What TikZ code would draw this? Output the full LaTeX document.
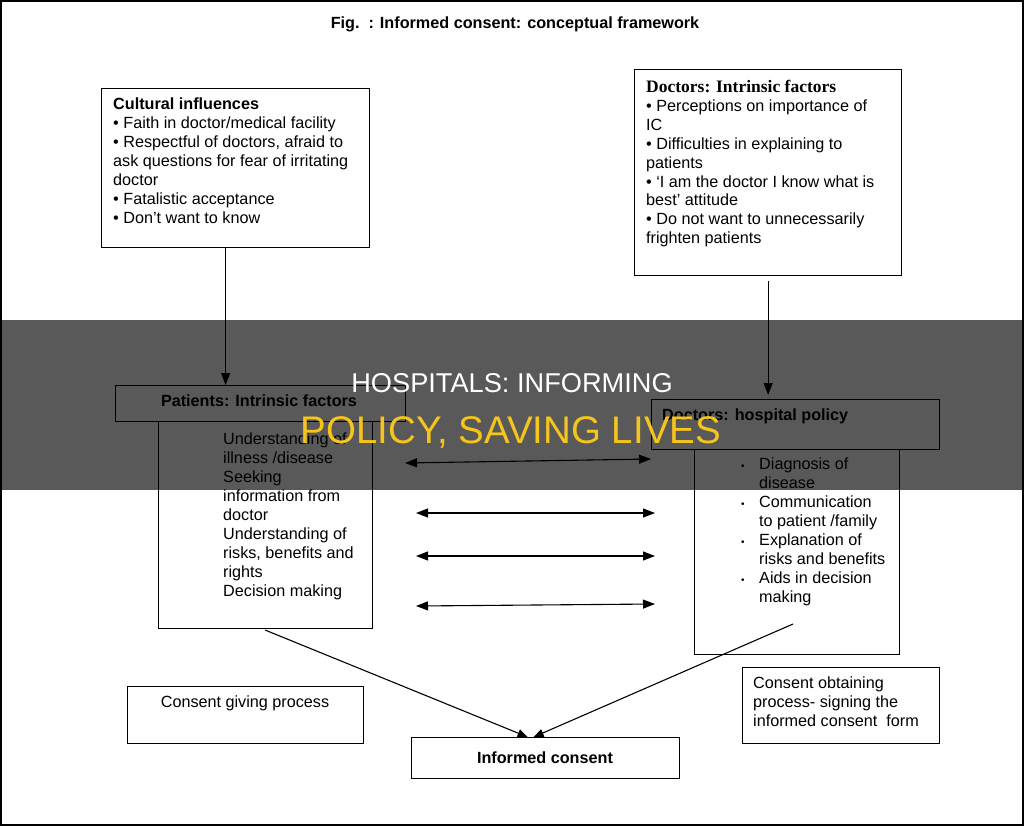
\documentclass[tikz,border=0pt]{standalone}
\usepackage{fontspec}
\setmainfont{Liberation Sans}
\newfontfamily\serifbf{Liberation Serif}
\newfontfamily\bannerfont{Liberation Sans}
\usetikzlibrary{arrows.meta,calc}
\definecolor{banneryellow}{RGB}{245,197,30}
\newcommand\fs{\fontsize{16.2}{18.9}\selectfont}
\newcommand\bul{\makebox[18pt][l]{\fontsize{10}{10}\selectfont\textbullet}}
\tikzset{
 box/.style={draw, line width=1.2pt, inner sep=0pt, anchor=north west},
 txt/.style={anchor=north west, inner sep=0pt, align=left, font=\fs},
 arr/.style={line width=1.1pt, -{Triangle[length=12pt,width=9pt]}},
 darr/.style={line width=1.1pt, {Triangle[length=12pt,width=9pt]}-{Triangle[length=12pt,width=9pt]}},
 sarr/.style={line width=1.1pt, -{Triangle[length=10pt,width=8pt]}},
}
\begin{document}
\begin{tikzpicture}[x=1pt,y=-1pt]
\useasboundingbox (0,0) rectangle (1024,827);
\draw[line width=2pt] (1,1) rectangle (1023,825);
\node[anchor=base, inner sep=0pt, font=\fs\bfseries] (title) at (515,28) {Fig.\ \ : Informed consent: conceptual framework};

% Cultural influences
\node[box, minimum width=268pt, minimum height=159pt] (cult) at (101,88) {};
\node[txt] (culttxt) at (113,98) {\textbf{Cultural influences}\\
\textbullet\ Faith in doctor/medical facility\\
\textbullet\ Respectful of doctors, afraid to\\
ask questions for fear of irritating\\
doctor\\
\textbullet\ Fatalistic acceptance\\
\textbullet\ Don’t want to know};

% Doctors intrinsic
\node[box, minimum width=267pt, minimum height=206pt] (dint) at (634,69) {};
\node[txt] (dinttxt) at (646,80) {{\serifbf\bfseries\fontsize{17.5}{18.9}\selectfont Doctors: Intrinsic factors}\\
\textbullet\ Perceptions on importance of\\
IC\\
\textbullet\ Difficulties in explaining to\\
patients\\
\textbullet\ ‘I am the doctor I know what is\\
best’ attitude\\
\textbullet\ Do not want to unnecessarily\\
frighten patients};

% Patients
\node[box, minimum width=214pt, minimum height=207pt] (pbody) at (158,421) {};
\node[box, minimum width=290pt, minimum height=36pt] (phead) at (115,385) {};
\node[anchor=base, inner sep=0pt, font=\fs\bfseries] (pheadtxt) at (259,406) {Patients: Intrinsic factors};
\node[txt] (pbodytxt) at (223,433) {Understanding of\\
illness /disease\\
Seeking\\
information from\\
doctor\\
Understanding of\\
risks, benefits and\\
rights\\
Decision making};

% Doctors hospital policy
\node[box, minimum width=205pt, minimum height=205pt] (hbody) at (694,449) {};
\node[box, minimum width=288pt, minimum height=50pt] (dhead) at (651,399) {};
\node[anchor=base west, inner sep=0pt, font=\fs\bfseries] (dheadtxt) at (662,420) {Doctors: hospital policy};
\node[txt] (hbodytxt) at (741,458) {\bul Diagnosis of\\
\hspace*{18pt}disease\\
\bul Communication\\
\hspace*{18pt}to patient /family\\
\bul Explanation of\\
\hspace*{18pt}risks and benefits\\
\bul Aids in decision\\
\hspace*{18pt}making};

% Bottom boxes
\node[box, minimum width=236pt, minimum height=57pt] (cgive) at (127,686) {};
\node[anchor=base, inner sep=0pt, font=\fs] (cgivetxt) at (245,707) {Consent giving process};
\node[box, minimum width=197pt, minimum height=76pt] (cobt) at (742,667) {};
\node[txt] (cobttxt) at (753,677) {Consent obtaining\\
process- signing the\\
informed consent\ \ form};
\node[box, minimum width=268pt, minimum height=41pt] (ic) at (411,737) {};
\node[anchor=base, inner sep=0pt, font=\fs\bfseries] (ictxt) at (545,763) {Informed consent};

% vertical arrows
\draw[arr] ([xshift=-10pt]cult.south) -- ([xshift=-10pt]cult.south |- phead.north);
\draw[arr] ([yshift=-5pt]dint.south) -- ([yshift=4pt]dint.south |- dhead.north);

% double arrows
\coordinate (a1l) at (405,463); \coordinate (a1r) at (651,459);
\coordinate (a2l) at (416,513); \coordinate (a2r) at (655,513);
\coordinate (a3l) at (416,556); \coordinate (a3r) at (655,556);
\coordinate (a4l) at (416,606); \coordinate (a4r) at (655,604);
\draw[darr] (a1l) -- (a1r);
\draw[darr] (a2l) -- (a2r);
\draw[darr] (a3l) -- (a3r);
\draw[darr] (a4l) -- (a4r);

% to informed consent
\coordinate (pl) at (265,630);
\coordinate (hr) at (793,624);
\draw[sarr] (pl) -- ([xshift=-18pt]ic.north);
\draw[sarr] (hr) -- ([xshift=-12pt]ic.north);

% banner overlay
\fill[black, opacity=0.65] (0,320) rectangle (1024,490);
\node[anchor=base, inner sep=0pt, text=white, font=\bannerfont\fontsize{27.2}{30}\selectfont] (ban1) at (512,392) {HOSPITALS: INFORMING};
\node[anchor=base, inner sep=0pt, text=banneryellow, font=\bannerfont\fontsize{38.5}{42}\selectfont] (ban2) at (511,443) {POLICY, SAVING LIVES};
\end{tikzpicture}
\end{document}
